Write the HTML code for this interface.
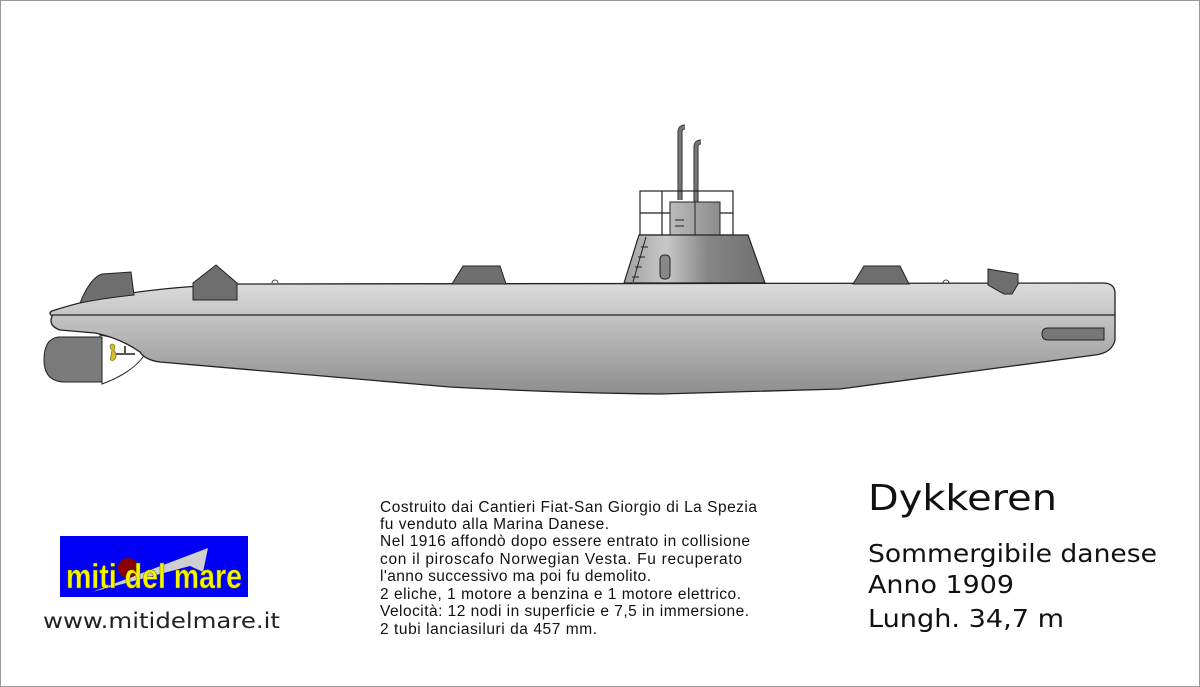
<!DOCTYPE html>
<html><head><meta charset="utf-8"><style>
html,body{margin:0;padding:0;background:#fff}
svg{display:block}
</style></head><body>
<svg width="1200" height="687" viewBox="0 0 1200 687" xmlns="http://www.w3.org/2000/svg">
<defs>
<linearGradient id="hull" x1="0" y1="0" x2="0" y2="1">
<stop offset="0" stop-color="#dcdcdc"/><stop offset="0.35" stop-color="#c0c0c0"/><stop offset="1" stop-color="#8e8e8e"/>
</linearGradient>
<linearGradient id="tower" x1="0" y1="0" x2="1" y2="0">
<stop offset="0" stop-color="#a0a0a0"/><stop offset="0.3" stop-color="#c8c8c8"/><stop offset="0.6" stop-color="#858585"/><stop offset="1" stop-color="#707070"/>
</linearGradient>
<linearGradient id="box" x1="0" y1="0" x2="1" y2="0">
<stop offset="0" stop-color="#bdbdbd"/><stop offset="1" stop-color="#8a8a8a"/>
</linearGradient>
</defs>
<rect x="0.5" y="0.5" width="1199" height="686" fill="#fff" stroke="#999"/>

<!-- periscopes -->
<path d="M680,200 L680,132 Q680,127 685,127" fill="none" stroke="#333" stroke-width="5"/>
<path d="M680,200 L680,132 Q680,127 685,127" fill="none" stroke="#777" stroke-width="3"/>
<path d="M696,205 L696,147 Q696,142 701,142" fill="none" stroke="#333" stroke-width="5"/>
<path d="M696,205 L696,147 Q696,142 701,142" fill="none" stroke="#777" stroke-width="3"/>
<!-- bridge rail -->
<g fill="none" stroke="#222" stroke-width="1.2">
<rect x="640" y="191" width="93" height="44"/>
<line x1="662" y1="191" x2="662" y2="235"/>
<line x1="640" y1="213" x2="733" y2="213"/>
</g>
<rect x="670" y="202" width="50" height="33" fill="url(#box)" stroke="#222"/>
<line x1="695" y1="202" x2="695" y2="235" stroke="#222"/>
<line x1="675" y1="220" x2="684" y2="220" stroke="#222"/>
<line x1="675" y1="226" x2="684" y2="226" stroke="#222"/>
<!-- tower -->
<polygon points="624,283 639,235 748,235 765,283" fill="url(#tower)" stroke="#222" stroke-width="1.2"/>
<line x1="633" y1="282" x2="646" y2="237" stroke="#222"/>
<g stroke="#222"><line x1="641" y1="247" x2="648" y2="247"/><line x1="638" y1="257" x2="645" y2="257"/><line x1="635" y1="267" x2="642" y2="267"/><line x1="632" y1="277" x2="639" y2="277"/></g>
<rect x="660" y="255" width="10" height="24" rx="4" fill="#888" stroke="#222"/>
<path d="M272,283 a3,3 0 0 1 6,0" fill="#fff" stroke="#444"/>
<path d="M943,283 a3,3 0 0 1 6,0" fill="#fff" stroke="#444"/>

<!-- propeller shroud -->
<rect x="100" y="335" width="48" height="48" fill="#fff"/>
<path d="M100,335 L150,345 Q140,370 102,384 Z" fill="#fff" stroke="#222"/>
<path d="M58,337 L102,337 L102,382 L62,382 Q44,380 44,360 Q44,339 58,337 Z" fill="#7a7a7a" stroke="#222"/>
<line x1="112" y1="354" x2="135" y2="354" stroke="#555" stroke-width="2"/>
<line x1="125" y1="346" x2="125" y2="354" stroke="#555" stroke-width="2"/>
<path d="M112,350 q-4,-4 0,-6 q4,0 2,6 q4,6 0,10 q-5,2 -3,-4 Z" fill="#d4c02a" stroke="#8a7a10" stroke-width="0.8"/>

<!-- hull -->
<path d="M52,316 Q48,313 52,311 Q120,288 240,284 L1103,283 Q1114,283 1115,292 L1115,340 Q1112,353 1095,355 L840,389 L660,394 Q560,393 450,387 L160,362 Q145,360 140,352 Q120,338 95,333 L60,330 Q48,326 52,316 Z" fill="url(#hull)" stroke="#222" stroke-width="1.3"/>
<line x1="52" y1="315" x2="1115" y2="315" stroke="#222" stroke-width="1.3"/>
<path d="M1048,328 L1104,328 L1104,340 L1048,340 Q1042,340 1042,334 Q1042,328 1048,328 Z" fill="#777" stroke="#222"/>

<!-- deck fittings (on top of hull) -->
<path d="M80,303 Q90,278 102,274 L131,272 L134,295 Q105,298 80,303 Z" fill="#6e6e6e" stroke="#222"/>
<polygon points="193,300 193,283 216,265 237,283 237,300" fill="#6e6e6e" stroke="#222"/>
<polygon points="452,284 463,266 500,266 506,284" fill="#6e6e6e" stroke="#222"/>
<polygon points="853,284 864,266 900,266 909,284" fill="#6e6e6e" stroke="#222"/>
<polygon points="988,269 1018,274 1018,284 1012,294 1004,294 988,285" fill="#6e6e6e" stroke="#222"/>

<!-- logo -->
<rect x="60" y="536" width="188" height="61" fill="#0000f6"/>
<polygon points="92,592 208,548 203,572 190,566" fill="#cfcfcf"/>
<circle cx="128" cy="568" r="10" fill="#8a0000"/>
<text x="66" y="588" font-family="Liberation Sans Narrow, Liberation Sans, sans-serif" font-weight="bold" font-size="34" fill="#f5f500" textLength="176" lengthAdjust="spacingAndGlyphs" stroke="#606000" stroke-width="0.5">miti del mare</text>
<text x="43" y="628" font-family="DejaVu Sans, sans-serif" font-size="21" fill="#222" textLength="237" lengthAdjust="spacingAndGlyphs">www.mitidelmare.it</text>

<!-- description -->
<g font-family="Liberation Sans, sans-serif" font-size="15.5" fill="#111" lengthAdjust="spacingAndGlyphs">
<text x="380" y="512" textLength="377">Costruito dai Cantieri Fiat-San Giorgio di La Spezia</text>
<text x="380" y="529" textLength="229">fu venduto alla Marina Danese.</text>
<text x="380" y="546" textLength="370">Nel 1916 affondò dopo essere entrato in collisione</text>
<text x="380" y="564" textLength="362">con il piroscafo Norwegian Vesta. Fu recuperato</text>
<text x="380" y="581" textLength="271">l'anno successivo ma poi fu demolito.</text>
<text x="380" y="599" textLength="361">2 eliche, 1 motore a benzina e 1 motore elettrico.</text>
<text x="380" y="616" textLength="369">Velocità: 12 nodi in superficie e 7,5 in immersione.</text>
<text x="380" y="634" textLength="217">2 tubi lanciasiluri da 457 mm.</text>
</g>
<g font-family="DejaVu Sans, sans-serif" fill="#111">
<text x="868" y="510" font-size="36" textLength="189" lengthAdjust="spacingAndGlyphs">Dykkeren</text>
<text x="868" y="562" font-size="25" textLength="289" lengthAdjust="spacingAndGlyphs">Sommergibile danese</text>
<text x="868" y="593" font-size="25" textLength="146" lengthAdjust="spacingAndGlyphs">Anno 1909</text>
<text x="868" y="627" font-size="25" textLength="196" lengthAdjust="spacingAndGlyphs">Lungh. 34,7 m</text>
</g>
</svg>
</body></html>
